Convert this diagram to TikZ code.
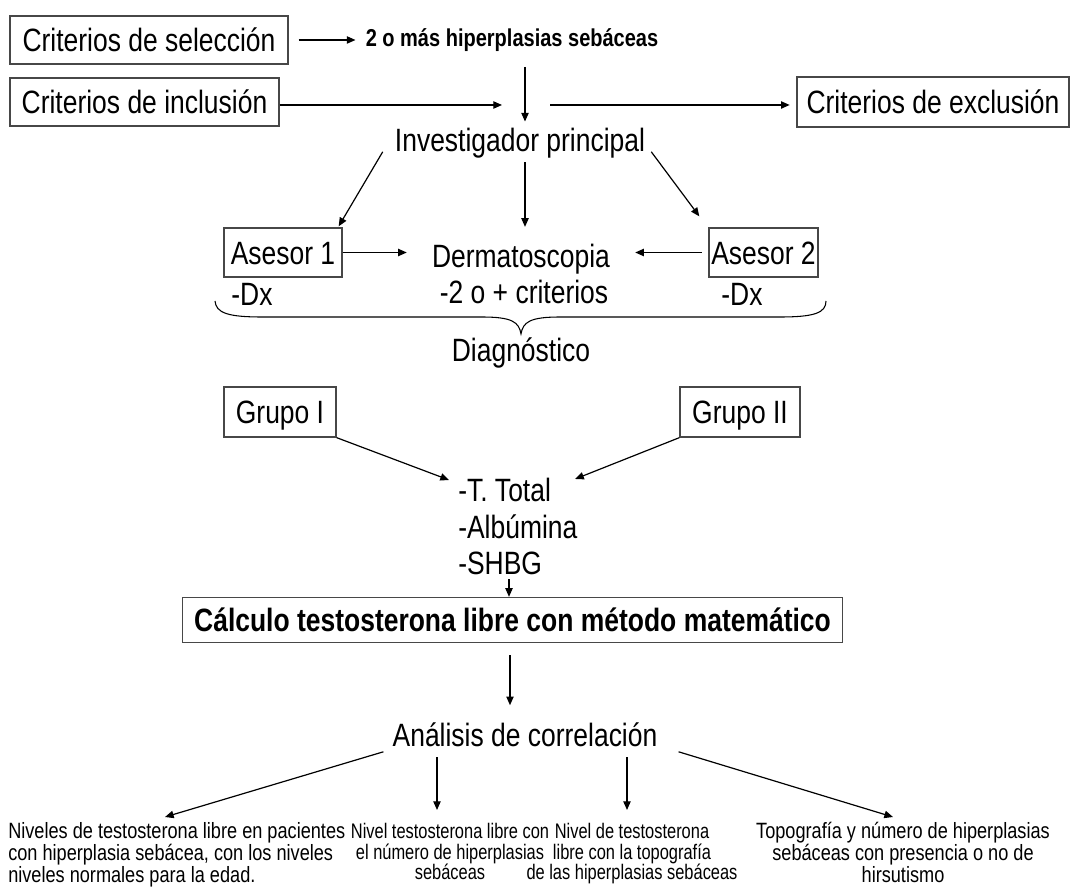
\documentclass[tikz,border=0pt]{standalone}
\usepackage{fontspec}
\setmainfont{Liberation Sans}[FakeStretch=0.82]
\newfontfamily\tightfont{Liberation Sans}[FakeStretch=0.78]
\usetikzlibrary{arrows.meta,calc}
\begin{document}
\begin{tikzpicture}[x=0.75pt,y=-0.75pt,
  big/.style={font=\fontsize{24.2}{29}\selectfont, inner sep=0pt, text height=17.3pt, text depth=0pt},
  box/.style={big, draw=black!72, line width=1pt},
  small/.style={font=\fontsize{16.6}{15.4}\selectfont, inner sep=0pt},
  tight/.style={font=\tightfont\fontsize{15.8}{15.4}\selectfont, inner sep=0pt},
  arr/.style={line width=0.9pt, -{Triangle[length=6.5pt,width=5.5pt]}},
]
\useasboundingbox (0,0) rectangle (1071,887);

% top row: criteria
\node[box, minimum width=208.5pt, minimum height=36pt] (sel) at (149,40) {Criterios de selección};
\node[box, minimum width=201.75pt, minimum height=36pt] (inc) at (144.5,102) {Criterios de inclusión};
\node[box, minimum width=204pt, minimum height=37.5pt] (exc) at (933,102) {Criterios de exclusión};
\node[font=\bfseries\fontsize{18.3}{22}\selectfont, inner sep=0pt, text height=13.1pt, text depth=0pt] (dos) at (512,38) {2 o más hiperplasias sebáceas};

\coordinate (hub) at (525,105);
\coordinate (hubL) at (502,105);
\coordinate (hubR) at (550,105);

\node[big] (inv) at (520,140) {Investigador principal};

\draw[arr, shorten <=7.5pt, shorten >=7.5pt] (sel.east) -- (sel.east -| dos.west);
\draw[arr, shorten <=15pt, shorten >=5pt] (dos.south -| hub) -- (inv.north -| hub);
\draw[arr] (inc.east |- hubL) -- (hubL);
\draw[arr, shorten >=5pt] (hubR) -- (hubR -| exc.west);

% assessors and dermatoscopy
\node[box, minimum width=88.5pt, minimum height=36.75pt] (as1) at (283,252.5) {Asesor 1};
\node[box, minimum width=81.75pt, minimum height=36.75pt] (as2) at (763.5,252.5) {Asesor 2};
\node[big] (derm) at (521,256) {Dermatoscopia};
\node[big] (crit) at (524,292) {-2 o + criterios};
\node[big] (dx1) at (252,294) {-Dx};
\node[big] (dx2) at (742,294) {-Dx};

\draw[arr] ($(inv.south west)+(-12,0)$) -- ($(as1.north east)+(-4,-1)$);
\draw[arr, shorten <=8pt, shorten >=13pt] (inv.south -| hub) -- (derm.north -| hub);
\draw[arr] ($(inv.south east)+(6,0)$) -- ($(as2.north west)+(-9,-11)$);
\draw[arr, shorten >=18.75pt] (as1.east) -- (as1.east -| derm.west);
\draw[arr, shorten <=5pt, shorten >=18.75pt] (as2.west) -- (as2.west -| derm.east);

% brace under the diagnosis row
\draw[line width=0.8pt] (215,301) .. controls (216,313) and (228,317) .. (262,317)
  -- (482,317) .. controls (512,317) and (519,322) .. (521,334)
  .. controls (523,322) and (530,317) .. (560,317)
  -- (780,317) .. controls (814,317) and (826,313) .. (826,301);
\node[big] (diag) at (521,350) {Diagnóstico};

% groups and lab values
\node[box, minimum width=84pt, minimum height=37.5pt] (g1) at (280,412) {Grupo I};
\node[box, minimum width=90pt, minimum height=37.5pt] (g2) at (740,412) {Grupo II};
\node[big, anchor=west] (tt) at (458,490) {-T. Total};
\node[big, anchor=west] (alb) at (458,527) {-Albúmina};
\node[big, anchor=west] (shbg) at (458,563) {-SHBG};

\draw[arr] (g1.south east) -- ($(tt.west)+(-9,-10)$);
\draw[arr] (g2.south west) -- ($(tt.east)+(24,-11)$);

\node[box, font=\bfseries\fontsize{24.2}{29}\selectfont, minimum width=495pt, minimum height=33.75pt] (calc) at (512.5,620) {Cálculo testosterona libre con método matemático};
\draw[arr, shorten <=3.5pt] (shbg.south -| 509,0) -- (calc.north -| 509,0);

\node[big] (anal) at (525,735) {Análisis de correlación};
\draw[arr, shorten <=9pt, shorten >=13.5pt] (calc.south -| 510,0) -- (anal.north -| 510,0);

% outcomes
\node[small, anchor=north west, align=left] (c1) at (8,822)
  {Niveles de testosterona libre en pacientes\\con hiperplasia sebácea, con los niveles\\niveles normales para la edad.};
\node[tight, anchor=north, align=center] (c2) at (450,823)
  {Nivel testosterona libre con\\el número de hiperplasias\\sebáceas};
\node[tight, anchor=north, align=center] (c3) at (632,823)
  {Nivel de testosterona\\libre con la topografía\\de las hiperplasias sebáceas};
\node[small, anchor=north, align=center] (c4) at (903,822)
  {Topografía y número de hiperplasias\\sebáceas con presencia o no de\\hirsutismo};

\draw[arr] ($(anal.south west)+(-9,5)$) -- ($(c1.north west)+(157,-5)$);
\draw[arr] (437,757) coordinate (m2) -- (m2 |- 0,810);
\draw[arr] (627,757) coordinate (m3) -- (m3 |- 0,810);
\draw[arr] ($(anal.south east)+(21,5)$) -- ($(c4.north)+(-10,-5)$);
\end{tikzpicture}
\end{document}
